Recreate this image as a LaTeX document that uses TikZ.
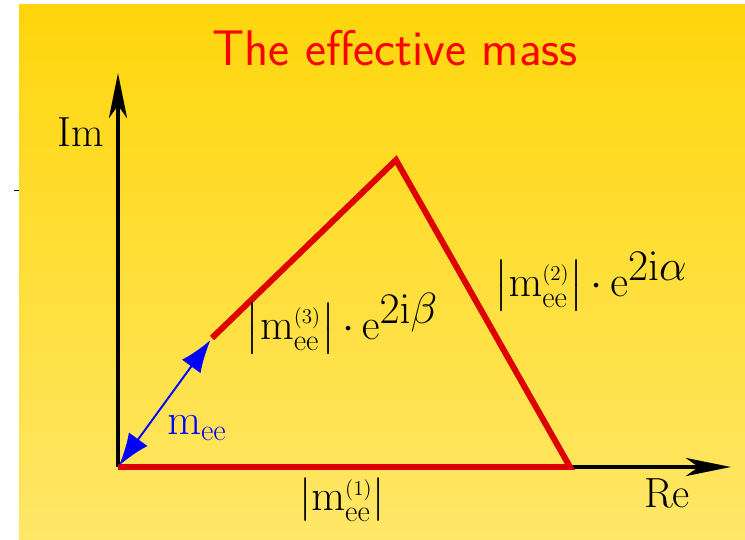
\documentclass[tikz,border=0pt]{standalone}
\usepackage{amsmath,amssymb}
\usepackage{tikz}
\usetikzlibrary{arrows.meta,positioning}
\definecolor{gold}{RGB}{255,214,12}
\definecolor{lemon}{RGB}{255,231,104}
\definecolor{side}{RGB}{222,0,0}
\definecolor{headline}{RGB}{252,0,0}

\begin{document}
\begin{tikzpicture}[x=0.02cm,y=-0.02cm,
 axis/.style={line width=2.8pt,-{Stealth[length=9mm,width=3.6mm,inset=2.5mm]}},
 edge/.style={line width=3.4pt,side,line join=miter},
 modulus/.style={{Latex[length=6.5mm,width=4.6mm]}-{Latex[length=6.5mm,width=4.6mm]},line width=1.1pt,blue},
 lbl/.style={font=\fontsize{24}{28}\selectfont,inner sep=0pt}]
\useasboundingbox (0,0) rectangle (745,540);
\shade[top color=gold,bottom color=lemon] (19,5) rectangle (745,540);
\draw[line width=0.8pt] (14,190.5) -- (18.5,190.5);
% corners of the plane and of the triangle
\coordinate (O) at (118,467);
\coordinate (imtip) at (118,73);
\coordinate (retip) at (731,467);
\coordinate (A) at (570,467);
\coordinate (B) at (396,160);
\coordinate (C) at (212,338);
\node[font=\sffamily\fontsize{28.5}{32}\selectfont,text=headline,inner sep=0pt] (title) at (395,48) {The effective mass};
\draw[axis] (O) -- (imtip);
\draw[axis] (O) -- (retip);
\draw[edge] (C) -- (B) -- (A) -- (O);
\draw[modulus,shorten >=1.5pt,shorten <=1pt] (O) -- (C);
\node[lbl] (im) at (81,132) {Im};
\node[lbl] (re) at (667,493) {Re};
\node[lbl] (mone) at (342,500) {$\lvert\mathrm{m}^{\scriptscriptstyle(1)}_{\mathrm{ee}}\rvert$};
\node[lbl] (mthree) at (342,324) {$\bigl\lvert\mathrm{m}^{\scriptscriptstyle(3)}_{\mathrm{ee}}\bigr\rvert\,{\cdot}\,\mathrm{e}^{\textstyle 2\mathrm{i}\beta}$};
\node[lbl] (mtwo) at (591,282) {$\bigl\lvert\mathrm{m}^{\scriptscriptstyle(2)}_{\mathrm{ee}}\bigr\rvert\,{\cdot}\,\mathrm{e}^{\textstyle 2\mathrm{i}\alpha}$};
\node[lbl,text=blue] (mee) at (197,428) {$\mathrm{m}_{\mathrm{ee}}$};
\end{tikzpicture}
\end{document}
